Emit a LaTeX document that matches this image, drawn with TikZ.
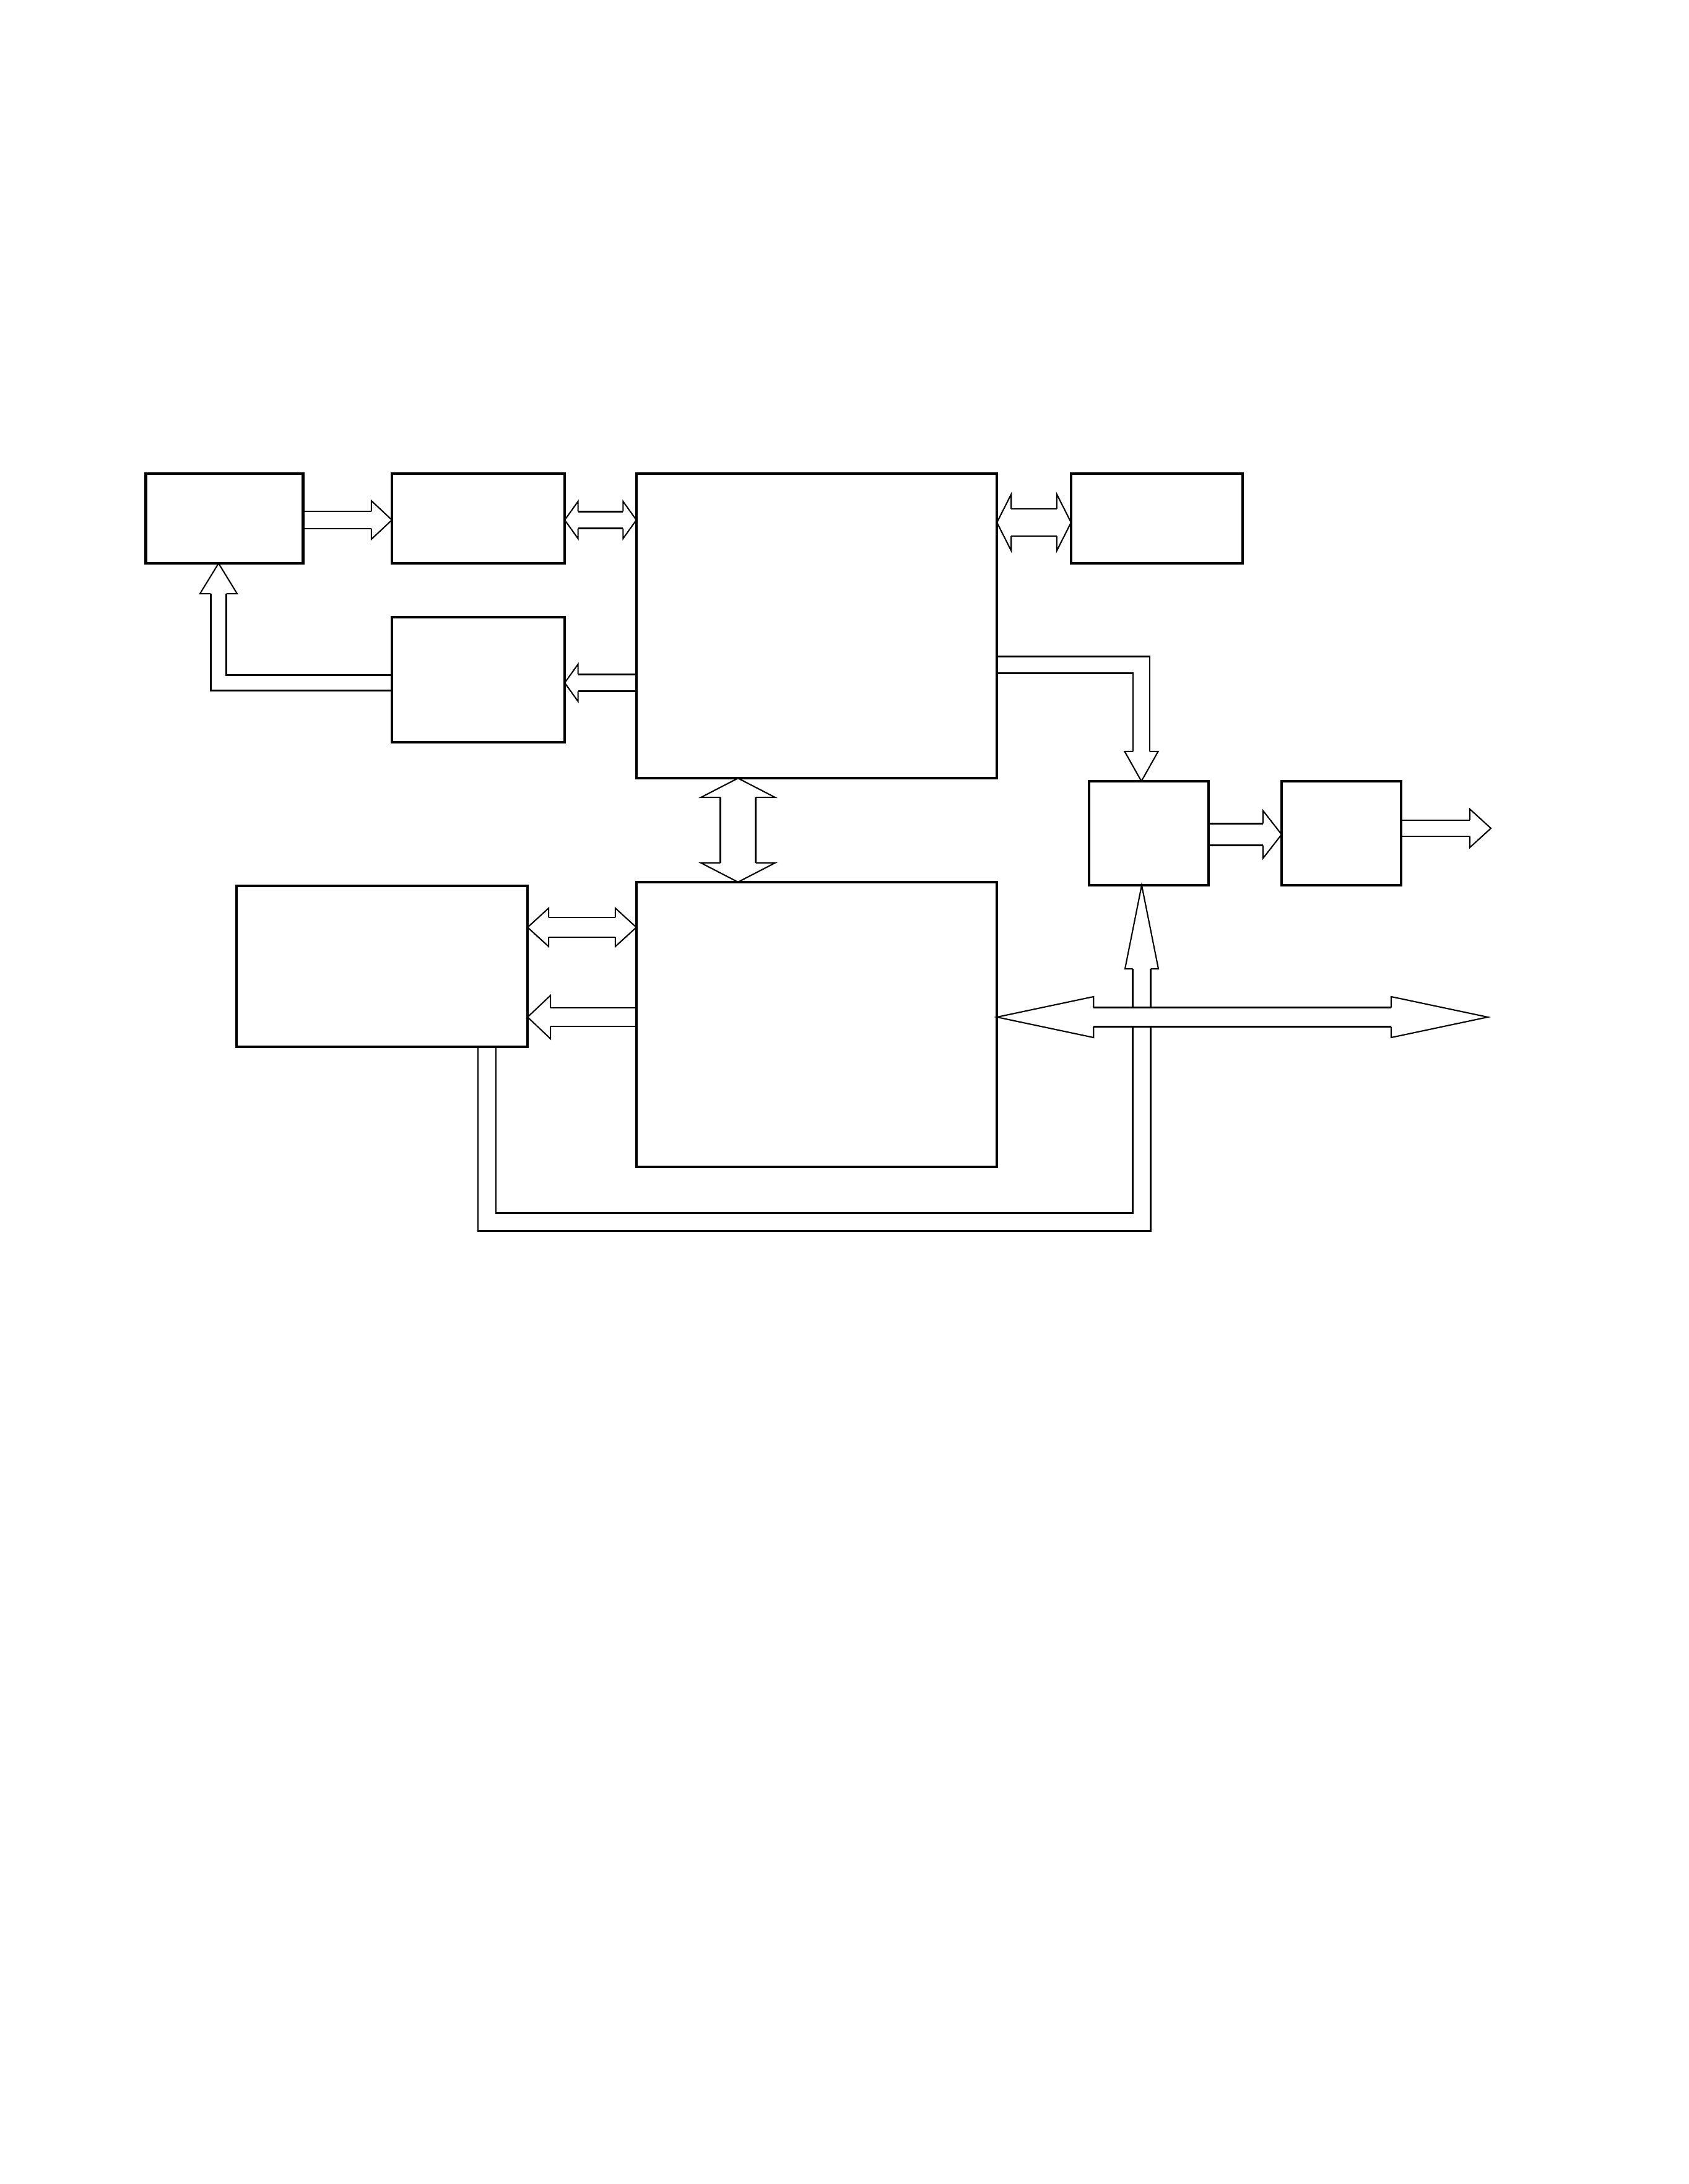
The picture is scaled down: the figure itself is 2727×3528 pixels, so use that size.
\documentclass[tikz,border=0pt]{standalone}
\usepackage{tikz}
\usetikzlibrary{calc,backgrounds}
\tikzset{
  blk/.style ={draw,line width=1.2pt,inner sep=0pt,outer sep=0pt},
  flow/.style={line width=0.6pt,line join=miter},
}
% hollow head: back point, tip, shaft half width, head half width, head length (cm)
\newcommand{\headat}[5]{%
  \coordinate (hb) at ($(#2)!#5cm!(#1)$);
  \fill[white] ($(hb)!#4cm!90:(#2)$) -- (#2) -- ($(hb)!#4cm!-90:(#2)$) -- cycle;
  \draw[flow] ($(hb)!#3cm!90:(#2)$) -- ($(hb)!#4cm!90:(#2)$) -- (#2)
    -- ($(hb)!#4cm!-90:(#2)$) -- ($(hb)!#3cm!-90:(#2)$);
}
\newcommand{\onearrow}[5]{%
  \headat{#1}{#2}{#3}{#4}{#5}
  \pgfmathsetmacro\dd{2*#3-0.0211}
  \draw[flow,double=white,double distance=\dd cm] (#1) -- (hb);
}
\newcommand{\twoarrow}[5]{%
  \headat{#1}{#2}{#3}{#4}{#5}
  \coordinate (hb2) at (hb);
  \headat{#2}{#1}{#3}{#4}{#5}
  \pgfmathsetmacro\dd{2*#3-0.0211}
  \draw[flow,double=white,double distance=\dd cm] (hb) -- (hb2);
}

\begin{document}
\begin{tikzpicture}[x=0.01cm,y=-0.01cm]
  \useasboundingbox (0,0) rectangle (2727,3528);

  \node[blk,minimum width=2.54cm,minimum height=1.45cm] (keyin) at (362.5,837.5) {};
  \node[blk,minimum width=2.79cm,minimum height=1.45cm] (latch) at (772.5,837.5) {};
  \node[blk,minimum width=5.82cm,minimum height=4.92cm] (cpu)   at (1319,1011)   {};
  \node[blk,minimum width=2.77cm,minimum height=1.45cm] (ram)   at (1868.5,837.5) {};
  \node[blk,minimum width=2.79cm,minimum height=2.02cm] (fb)    at (772.5,1098)  {};
  \node[blk,minimum width=5.82cm,minimum height=4.60cm] (mcu)   at (1319,1655)   {};
  \node[blk,minimum width=4.70cm,minimum height=2.60cm] (host)  at (617,1561)    {};
  \node[blk,minimum width=1.93cm,minimum height=1.68cm] (drv)   at (1855.5,1346) {};
  \node[blk,minimum width=1.93cm,minimum height=1.68cm] (amp)   at (2166.5,1346) {};

  \coordinate (r1) at (0,840);
  \coordinate (r2) at (0,844);
  \coordinate (r3) at (0,1103);
  \coordinate (r4) at (0,1074);
  \coordinate (r5) at (0,1348);
  \coordinate (r6) at (0,1338);
  \coordinate (r7) at (0,1498);
  \coordinate (r8) at (0,1643);
  \coordinate (col) at (1192,0);
  \coordinate (k1) at (353,1103);
  \coordinate (k2) at (1843.5,1074);
  \coordinate (k3) at (786.5,1974);
  \coordinate (k4) at (1844,1974);
  \coordinate (gout) at (2408,1338);
  \coordinate (busend) at (2403,1643);

  \coordinate (a1) at (keyin.east |- r1);  \coordinate (a2) at (latch.west |- r1);
  \coordinate (b1) at (latch.east |- r1);  \coordinate (b2) at (cpu.west |- r1);
  \coordinate (d1) at (cpu.east |- r2);    \coordinate (d2) at (ram.west |- r2);
  \coordinate (e1) at (cpu.west |- r3);    \coordinate (e2) at (fb.east |- r3);
  \coordinate (f1) at (fb.west |- r3);     \coordinate (f2) at (k1 |- keyin.south);
  \coordinate (g1) at (cpu.east |- r4);    \coordinate (g2) at (k2 |- drv.north);
  \coordinate (h1) at (cpu.south -| col);  \coordinate (h2) at (mcu.north -| col);
  \coordinate (i1) at (drv.east |- r5);    \coordinate (i2) at (amp.west |- r5);
  \coordinate (j1) at (amp.east |- r6);
  \coordinate (m1) at (host.east |- r7);   \coordinate (m2) at (mcu.west |- r7);
  \coordinate (n1) at (mcu.west |- r8);    \coordinate (n2) at (host.east |- r8);
  \coordinate (p1) at (k3 |- host.south);  \coordinate (p2) at (k4 |- drv.south);
  \coordinate (q1) at (mcu.east |- r8);

  \begin{scope}[on background layer]
    \onearrow{a1}{a2}{0.14}{0.31}{0.33}
    \twoarrow{b1}{b2}{0.135}{0.30}{0.215}
    \twoarrow{d1}{d2}{0.22}{0.455}{0.23}
    \onearrow{e1}{e2}{0.135}{0.30}{0.215}
    \headat{k1}{f2}{0.125}{0.30}{0.49}
    \draw[flow,double=white,double distance=0.229cm] (f1) -- (k1) -- (hb);
    \headat{k2}{g2}{0.135}{0.27}{0.48}
    \draw[flow,double=white,double distance=0.249cm] (g1) -- (k2) -- (hb);
    \twoarrow{h1}{h2}{0.285}{0.60}{0.31}
    \onearrow{i1}{i2}{0.175}{0.385}{0.30}
    \onearrow{j1}{gout}{0.13}{0.31}{0.34}
    \twoarrow{m1}{m2}{0.16}{0.31}{0.34}
    \onearrow{n1}{n2}{0.15}{0.35}{0.37}
    \headat{k4}{p2}{0.145}{0.27}{1.35}
    \draw[flow,double=white,double distance=0.269cm] (p1) -- (k3) -- (k4) -- (hb);
    \twoarrow{q1}{busend}{0.155}{0.33}{1.56}
  \end{scope}
\end{tikzpicture}
\end{document}
